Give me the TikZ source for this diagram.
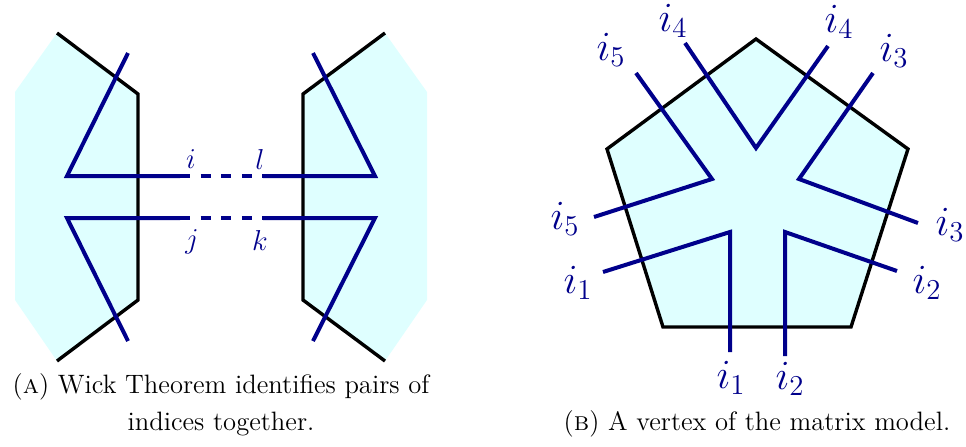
\documentclass[tikz,border=0pt]{standalone}
\usepackage{amsmath}
\usepackage{tikz}
\usetikzlibrary{positioning}

\definecolor{idxblue}{RGB}{0,0,139}
\definecolor{sheetcyan}{RGB}{223,255,255}

\begin{document}
\begin{tikzpicture}[
    x=0.5pt, y=-0.5pt,
    sheet/.style={fill=sheetcyan, draw=none},
    rim/.style={draw=black, line width=1.7pt},
    strand/.style={draw=idxblue, line width=2pt},
    gapline/.style={draw=idxblue, line width=2pt, dash pattern=on 5pt off 5.3pt},
    lbl/.style={text=idxblue, inner sep=0pt, font=\fontsize{13.5}{16}\selectfont},
    biglbl/.style={text=idxblue, inner sep=0pt, font=\fontsize{21}{24}\selectfont},
    caption/.style={align=center, inner sep=0pt, anchor=base,
                    font=\fontsize{13.3}{18.5}\selectfont}
]
\useasboundingbox (0,0) rectangle (966,446);

\fill[sheet] (57,33) -- (138,94) -- (138,300) -- (57,361) -- (15,300) -- (15,92) -- cycle;
\fill[sheet] (385,33) -- (303,94) -- (303,300) -- (385,361) -- (427,300) -- (427,92) -- cycle;
\draw[rim] (57,33) -- (138,94) -- (138,300) -- (57,361);
\draw[rim] (385,33) -- (303,94) -- (303,300) -- (385,361);

\draw[strand] (128,53) -- (67,176) -- (180,176);
\draw[gapline] (180,176) -- (263,176);
\draw[strand] (263,176) -- (375,176) -- (313,53);
\draw[strand] (128,341) -- (67,218) -- (180,218);
\draw[gapline] (180,218) -- (263,218);
\draw[strand] (263,218) -- (375,218) -- (313,341);

\node[lbl] (i) at (191,159) {$i$};
\node[lbl] (l) at (260,159) {$l$};
\node[lbl] (j) at (192,242) {$j$};
\node[lbl] (k) at (260,240) {$k$};

\filldraw[sheet, rim] (756,39) -- (908,149) -- (851,327) -- (663,327) -- (607,149) -- cycle;

\draw[strand] (685,43) -- (756,148) -- (828,46);
\draw[strand] (873,73) -- (799,179) -- (918,223);
\draw[strand] (897,271) -- (785,232) -- (785,356);
\draw[strand] (603,272) -- (730,232) -- (730,352);
\draw[strand] (636,73) -- (712,179) -- (594,217);

\node[biglbl] (i4a) at (673,21) {$i_4$};
\node[biglbl] (i4b) at (839,22) {$i_4$};
\node[biglbl] (i5a) at (611,50) {$i_5$};
\node[biglbl] (i3a) at (894,51) {$i_3$};
\node[biglbl] (i5b) at (565,219) {$i_5$};
\node[biglbl] (i3b) at (950,225) {$i_3$};
\node[biglbl] (i1a) at (578,283) {$i_1$};
\node[biglbl] (i2a) at (927,283) {$i_2$};
\node[biglbl] (i1b) at (731,378) {$i_1$};
\node[biglbl] (i2b) at (790,379) {$i_2$};

\node[caption] (capa) at (221,430) {(\textsc{a}) Wick Theorem identifies pairs of\\indices together.};
\node[caption] (capb) at (757,430) {(\textsc{b}) A vertex of the matrix model.};
\end{tikzpicture}
\end{document}
